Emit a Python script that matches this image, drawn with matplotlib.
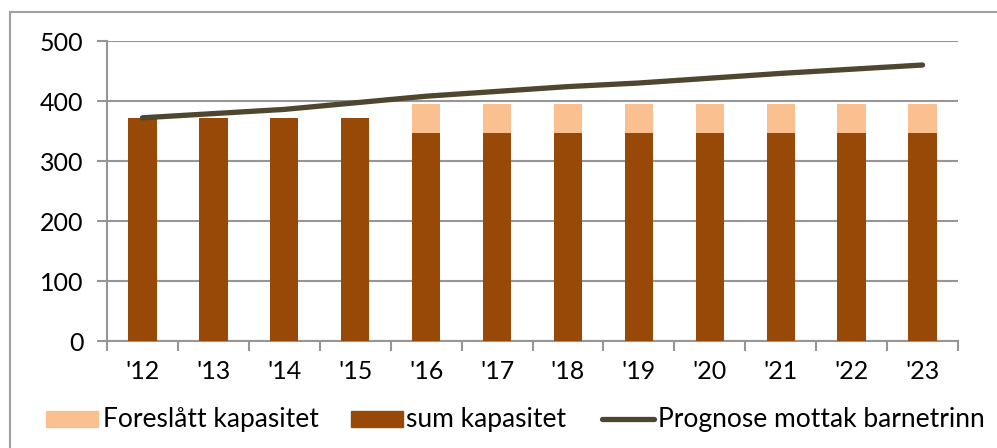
import matplotlib.pyplot as plt
from matplotlib.patches import Rectangle
from matplotlib.lines import Line2D
import numpy as np

plt.rcParams['font.family'] = ['Lato', 'DejaVu Sans']

years = ["'12", "'13", "'14", "'15", "'16", "'17", "'18", "'19", "'20", "'21", "'22", "'23"]
sum_kapasitet = [371, 371, 371, 371, 347, 347, 347, 347, 347, 347, 347, 347]
foreslatt = [0, 0, 0, 0, 48, 48, 48, 48, 48, 48, 48, 48]
prognose = [372, 379, 386, 397, 408, 416, 424, 430, 438, 446, 453, 460]

brown = '#984807'
light = '#fac090'
olive = '#4f4630'
grid_col = '#969696'
fs = 18
legend_fs = 19

W, H = 997, 448
fig = plt.figure(figsize=(W / 100, H / 100), dpi=100)
ax = fig.add_axes([107 / W, 1 - 341 / H, (958 - 107) / W, 300 / H])

# outer chart frame, runs off the right and bottom edges
fig.patches.append(Rectangle((9.5 / W, -0.1), 1.2, 1 - 12 / H + 0.1,
                             transform=fig.transFigure, fill=False,
                             edgecolor='#a0a0a0', linewidth=1.5))

x = np.arange(len(years))
ax.bar(x, sum_kapasitet, width=0.4, color=brown, zorder=3)
ax.bar(x, foreslatt, width=0.4, bottom=sum_kapasitet, color=light, zorder=3)
ax.plot(x, prognose, color=olive, linewidth=3.8, solid_capstyle='round', zorder=4)

ax.set_xlim(-0.5, len(years) - 0.5)
ax.set_ylim(0, 500)
ax.set_yticks(range(0, 501, 100))
ax.yaxis.grid(True, color=grid_col, linewidth=1.5, zorder=0)
ax.set_axisbelow(True)

for s in ['top', 'right']:
    ax.spines[s].set_visible(False)
for s in ['left', 'bottom']:
    ax.spines[s].set_color(grid_col)
    ax.spines[s].set_linewidth(1.5)

ax.set_xticks(x)
ax.set_xticklabels(years)
ax.set_xticks(np.arange(-0.5, len(years)), minor=True)
ax.tick_params(axis='x', which='major', length=0, pad=14, labelsize=fs)
ax.tick_params(axis='x', which='minor', length=7, width=1.5, color=grid_col)
ax.tick_params(axis='y', length=7, width=1.5, color=grid_col, pad=10, labelsize=fs)

# legend drawn by hand along the bottom
ly = 1 - 419 / H
ph = 16 / H
fig.patches.append(Rectangle((46 / W, ly - ph / 2), 52 / W, ph, transform=fig.transFigure,
                             color=light))
fig.text(103 / W, ly, 'Foreslått kapasitet', fontsize=legend_fs, va='center', ha='left')
fig.patches.append(Rectangle((351 / W, ly - ph / 2), 52 / W, ph, transform=fig.transFigure,
                             color=brown))
fig.text(406 / W, ly, 'sum kapasitet', fontsize=legend_fs, va='center', ha='left')
fig.lines.append(Line2D([602 / W, 654 / W], [ly, ly], transform=fig.transFigure,
                        color=olive, linewidth=3.8, solid_capstyle='round'))
fig.text(658 / W, ly, 'Prognose mottak barnetrinn', fontsize=legend_fs, va='center', ha='left')

fig.savefig('out.png', dpi=100)
